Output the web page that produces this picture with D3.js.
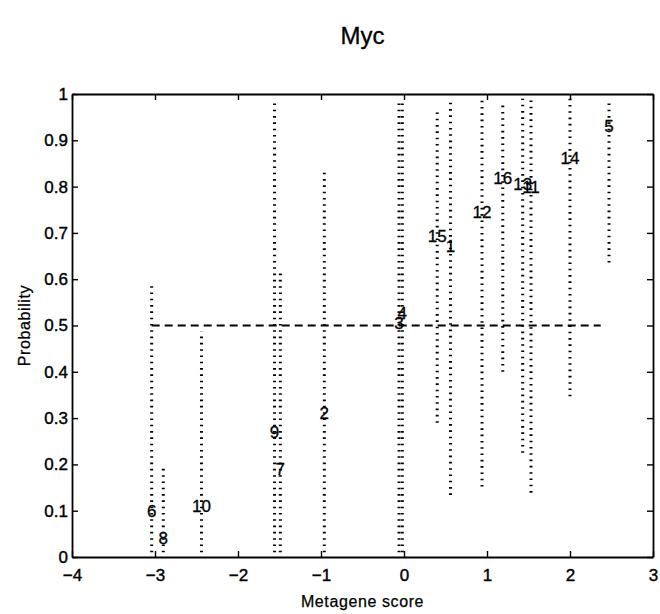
<!DOCTYPE html>
<html>
<head>
<meta charset="utf-8">
<script src="https://cdn.jsdelivr.net/npm/d3@7/dist/d3.min.js"></script>
<style>
  html, body { margin: 0; padding: 0; background: #fff; }
  svg { display: block; }
  text { font-family: "Liberation Sans", Arial, Helvetica, sans-serif; fill: #000; }
</style>
</head>
<body>
<svg id="chart" width="660" height="614"></svg>
<script>
// Samples: metagene score, predicted probability and its interval
const sampleIds   = [1, 2, 3, 4, 5, 6, 7, 8, 9, 10, 11, 12, 13, 14, 15, 16];
const metagene    = [0.56, -0.96, -0.06, -0.02, 2.47, -3.04, -1.49, -2.90, -1.56, -2.44, 1.53, 0.94, 1.43, 2.00, 0.40, 1.19];
const probability = [0.670, 0.309, 0.505, 0.525, 0.929, 0.098, 0.188, 0.041, 0.269, 0.109, 0.798, 0.744, 0.805, 0.861, 0.693, 0.818];
const lowerBound  = [0.134, 0.01, 0.01, 0.01, 0.636, 0.01, 0.01, 0.01, 0.01, 0.01, 0.139, 0.152, 0.225, 0.347, 0.290, 0.400];
const upperBound  = [0.990, 0.838, 0.99, 0.99, 0.990, 0.59, 0.615, 0.195, 0.98, 0.487, 0.990, 0.990, 0.990, 0.990, 0.969, 0.985];

// 0.5 decision threshold, drawn across the range of scores
const thresholdX = [-3.04, 2.37];
const thresholdP = 0.5;

const xTicks = [-4, -3, -2, -1, 0, 1, 2, 3];
const yTicks = [0, 0.1, 0.2, 0.3, 0.4, 0.5, 0.6, 0.7, 0.8, 0.9, 1];

const titleText = "Myc";
const xLabel = "Metagene score";
const yLabel = "Probability";

const svg = d3.select("#chart");
const plotLeft = 72, plotRight = 653, plotTop = 94, plotBottom = 557;

const x = d3.scaleLinear().domain([-4, 3]).range([plotLeft, plotRight]);
const y = d3.scaleLinear().domain([0, 1]).range([plotBottom, plotTop]);

const fmtY = v => (v === 0 || v === 1) ? String(v) : d3.format(".1f")(v);
const fmtX = v => v < 0 ? "\u2212" + Math.abs(v) : String(v);

const rows = sampleIds.map((id, i) => ({
  id, x: metagene[i], p: probability[i], lo: lowerBound[i], hi: upperBound[i]
}));

// Interval lines (dotted)
svg.append("g").selectAll("line")
  .data(rows).join("line")
  .attr("x1", d => x(d.x)).attr("x2", d => x(d.x))
  .attr("y1", d => y(d.lo)).attr("y2", d => y(d.hi))
  .attr("stroke", "#000")
  .attr("stroke-width", 3)
  .attr("stroke-dasharray", "1.6 4.7");

// Threshold line (dashed)
svg.append("line")
  .attr("x1", x(thresholdX[0])).attr("x2", x(thresholdX[1]))
  .attr("y1", y(thresholdP)).attr("y2", y(thresholdP))
  .attr("stroke", "#000")
  .attr("stroke-width", 2.2)
  .attr("stroke-dasharray", "8 5");

// Sample number labels at the predicted probability
svg.append("g").selectAll("text")
  .data(rows).join("text")
  .attr("x", d => x(d.x))
  .attr("y", d => y(d.p))
  .attr("text-anchor", "middle")
  .attr("dominant-baseline", "central")
  .attr("font-size", 17)
  .attr("stroke", "#000")
  .attr("stroke-width", 0.3)
  .text(d => d.id);

// Axes, boxed with inward ticks on all four sides
const tickLen = 6;
const axisBottom = d3.axisBottom(x).tickValues(xTicks).tickSizeInner(-tickLen).tickSizeOuter(0).tickPadding(12).tickFormat(fmtX);
const axisLeft = d3.axisLeft(y).tickValues(yTicks).tickSizeInner(-tickLen).tickSizeOuter(0).tickPadding(4).tickFormat(fmtY);
const axisTop = d3.axisTop(x).tickValues(xTicks).tickSizeInner(-tickLen).tickSizeOuter(0).tickFormat("");
const axisRight = d3.axisRight(y).tickValues(yTicks).tickSizeInner(-tickLen).tickSizeOuter(0).tickFormat("");

function styleAxis(g) {
  g.select(".domain").attr("stroke", "#000").attr("stroke-width", 1.8);
  g.selectAll(".tick line").attr("stroke", "#000").attr("stroke-width", 1.4);
  g.selectAll(".tick text")
    .attr("font-size", 17)
    .attr("font-family", "\"Liberation Sans\", Arial, sans-serif")
    .attr("fill", "#000")
    .attr("stroke", "#000")
    .attr("stroke-width", 0.4);
}

svg.append("g").attr("transform", `translate(0,${plotBottom})`).call(axisBottom).call(styleAxis);
svg.append("g").attr("transform", `translate(${plotLeft},0)`).call(axisLeft).call(styleAxis);
svg.append("g").attr("transform", `translate(0,${plotTop})`).call(axisTop).call(styleAxis);
svg.append("g").attr("transform", `translate(${plotRight},0)`).call(axisRight).call(styleAxis);

// Title and axis labels
svg.append("text")
  .attr("x", (plotLeft + plotRight) / 2).attr("y", 44)
  .attr("text-anchor", "middle")
  .attr("font-size", 24)
  .attr("stroke", "#000")
  .attr("stroke-width", 0.3)
  .text(titleText);

svg.append("text")
  .attr("x", (plotLeft + plotRight) / 2).attr("y", 607)
  .attr("text-anchor", "middle")
  .attr("font-size", 16)
  .attr("letter-spacing", 0.6)
  .attr("stroke", "#000")
  .attr("stroke-width", 0.25)
  .text(xLabel);

svg.append("text")
  .attr("transform", `translate(30,${(plotTop + plotBottom) / 2}) rotate(-90)`)
  .attr("text-anchor", "middle")
  .attr("font-size", 16)
  .attr("letter-spacing", 0.6)
  .attr("stroke", "#000")
  .attr("stroke-width", 0.25)
  .text(yLabel);
</script>
</body>
</html>
